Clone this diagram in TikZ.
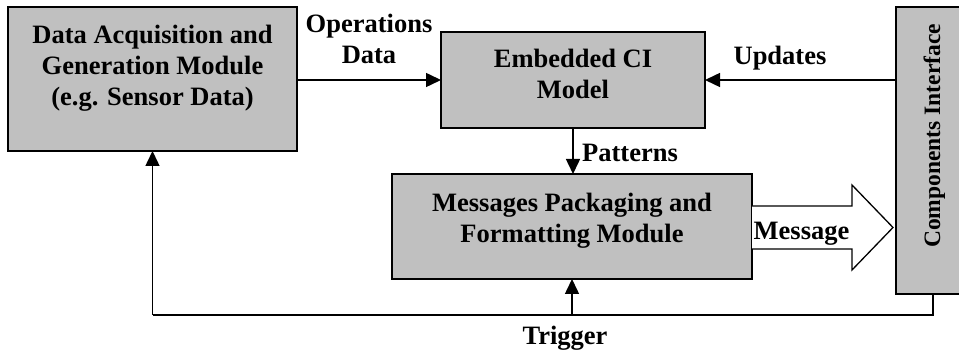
\documentclass[tikz,border=0pt]{standalone}
\usepackage{fontspec}
\setmainfont{Liberation Serif}
\usetikzlibrary{arrows.meta}
\definecolor{boxgray}{RGB}{192,192,192}
\begin{document}
\begin{tikzpicture}[x=1pt,y=-1pt,
  box/.style={draw=black, fill=boxgray, line width=1.8pt, inner sep=0pt, outer sep=0pt, rectangle},
  txt/.style={font=\fontsize{26.5}{31}\selectfont\bfseries, inner sep=0pt, align=center},
  arr/.style={line width=1.5pt, -{Triangle[length=15pt,width=14pt]}},
  line/.style={line width=1.5pt}
  ]
\useasboundingbox (0,0) rectangle (959,352);
% boxes
\node[box, minimum width=289pt, minimum height=144pt] (acq) at (152.5,79) {};
\node[box, minimum width=264pt, minimum height=96pt] (emb) at (573,80) {};
\node[box, minimum width=360pt, minimum height=105pt] (msg) at (572,226.5) {};
\node[box, minimum width=74pt, minimum height=287pt] (comp) at (933,150.5) {};
% box texts
\node[txt, anchor=north] (acqt) at (152.5,25) {Data Acquisition and\\Generation Module\\(e.g. Sensor Data)};
\node[txt, anchor=north] (embt) at (573,49) {Embedded CI\\Model};
\node[txt, anchor=north] (msgt) at (572,193) {Messages Packaging and\\Formatting Module};
\node[txt, font=\fontsize{23.5}{28}\selectfont\bfseries, rotate=90, anchor=base west] (compt) at (940,248) {Components Interface};
% connectors
\draw[arr] (acq.east |- emb.west) -- (emb.west);
\draw[arr] (comp.west |- emb.east) -- (emb.east);
\draw[arr] (emb.south) -- (emb.south |- msg.north);
\coordinate (bl) at (152.5,315);
\coordinate (mtip) at (893,227.5);
\draw[line] (comp.south) -- (comp.south |- bl) -- (bl);
\draw[arr] (bl) -- (acq.south);
\draw[arr] (msg.south |- bl) -- (msg.south);
% big message arrow
\draw[line width=1.3pt, fill=white, line join=miter]
  (msg.east |- 0,206) -- (852,206) -- (852,185) -- (mtip) -- (852,270) -- (852,249) -- (msg.east |- 0,249);
% labels
\node[txt, anchor=north] (opl) at (369,14) {Operations\\Data};
\node[txt, anchor=base] (upl) at (780,65) {Updates};
\node[txt, anchor=base] (pal) at (630,162) {Patterns};
\node[txt, anchor=base] (mel) at (801.5,240) {Message};
\node[txt, anchor=base] (trl) at (565,345) {Trigger};
\end{tikzpicture}
\end{document}
